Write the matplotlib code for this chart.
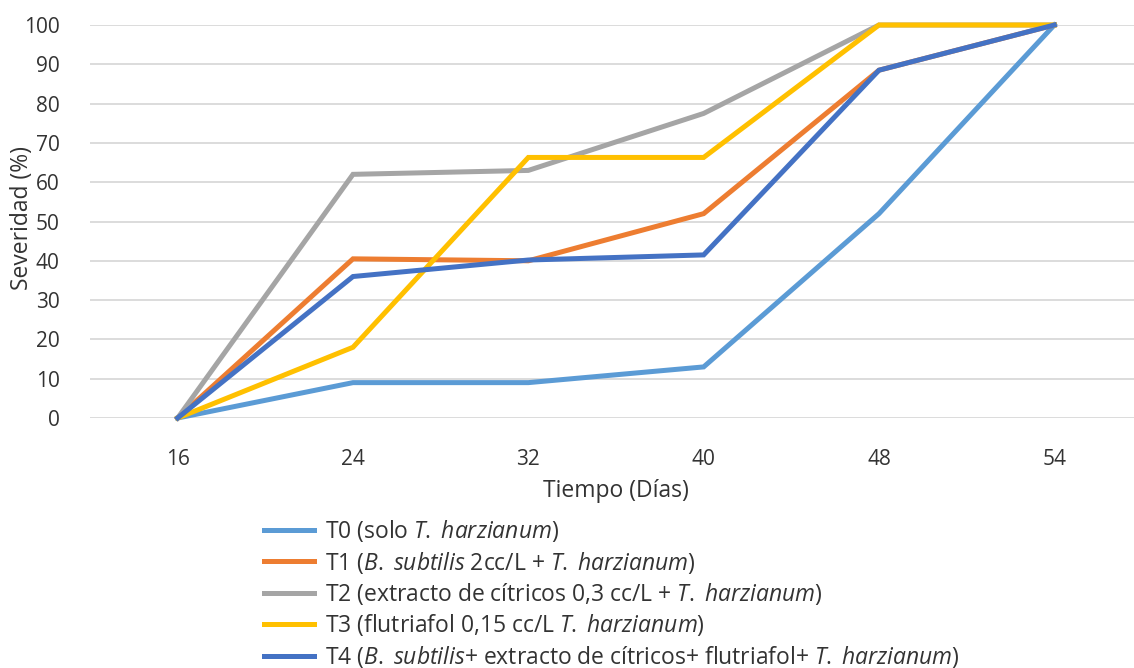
import matplotlib
matplotlib.use("Agg")
import matplotlib.pyplot as plt

FONT = 'Open Sans'
plt.rcParams['font.family'] = [FONT, 'DejaVu Sans']
plt.rcParams['mathtext.fontset'] = 'custom'
plt.rcParams['mathtext.rm'] = FONT
plt.rcParams['mathtext.it'] = FONT + ':italic'

days = ["16", "24", "32", "40", "48", "54"]
t0 = [0, 9, 9, 13, 52, 100]
t1 = [0, 40.5, 40, 52, 88.5, 100]
t2 = [0, 62, 63, 77.5, 100, 100]
t3 = [0, 18, 66.3, 66.3, 100, 100]
t4 = [0, 36, 40.2, 41.5, 88.5, 100]

labels = [
    r"T0 (solo $\mathit{T.}$ $\mathit{harzianum}$)",
    r"T1 ($\mathit{B.}$ $\mathit{subtilis}$ 2cc/L + $\mathit{T.}$ $\mathit{harzianum}$)",
    r"T2 (extracto de cítricos 0,3 cc/L + $\mathit{T.}$ $\mathit{harzianum}$)",
    r"T3 (flutriafol 0,15 cc/L $\mathit{T.}$ $\mathit{harzianum}$)",
    r"T4 ($\mathit{B.}$ $\mathit{subtilis}$+ extracto de cítricos+ flutriafol+ $\mathit{T.}$ $\mathit{harzianum}$)",
]
colors = ["#5B9BD5", "#ED7D31", "#A5A5A5", "#FFC000", "#4472C4"]
series = [t0, t1, t2, t3, t4]

W, H = 1134, 668
fig = plt.figure(figsize=(W / 100, H / 100), dpi=100)
left, right, top, bottom = 90, 1142, 25, 418
ax = fig.add_axes([left / W, 1 - bottom / H, (right - left) / W, (bottom - top) / H])

x = list(range(len(days)))
for s, c, lab in zip(series, colors, labels):
    ax.plot(x, s, color=c, lw=3.6, label=lab, solid_joinstyle='miter', clip_on=False)

ax.set_xlim(-0.5, len(days) - 0.5)
ax.set_ylim(0, 100)
ax.set_yticks(range(0, 101, 10))
ax.set_xticks(x)
ax.set_xticklabels(days)
ax.grid(axis='y', color='#D9D9D9', lw=1.3)
ax.set_axisbelow(True)
for sp in ax.spines.values():
    sp.set_visible(False)
ax.tick_params(axis='both', length=0, labelsize=15, colors='#333333')
ax.tick_params(axis='y', pad=22)
ax.tick_params(axis='x', pad=22)

fig.text(616 / W, 1 - 491 / H, "Tiempo (Días)", ha='center', va='center', fontsize=16.5, color='#333333')
fig.text(22 / W, 1 - 218 / H, "Severidad (%)", ha='center', va='center', fontsize=16.5,
         color='#333333', rotation=90)

leg = fig.legend(loc='upper left', bbox_to_anchor=(264 / W, 1 - 518 / H), frameon=False,
                 fontsize=16.5, handlelength=2.2, handletextpad=0.45, labelspacing=0.24,
                 borderpad=0, borderaxespad=0)
for t in leg.get_texts():
    t.set_color('#333333')

fig.savefig("out.png", dpi=100)
